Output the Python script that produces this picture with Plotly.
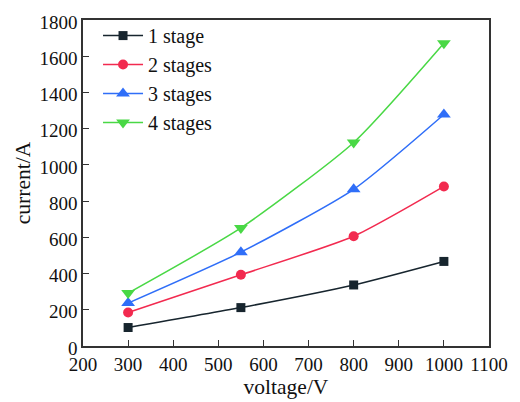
import plotly.graph_objects as go

# Measured current versus applied voltage for 1-4 stage configurations
voltage = [300, 550, 800, 1000]
current_1_stage = [102, 212, 337, 467]
current_2_stages = [185, 393, 606, 881]
current_3_stages = [237, 518, 865, 1278]
current_4_stages = [292, 652, 1124, 1672]

series = [
    ("1 stage", current_1_stage, "#17252e", "square", 9),
    ("2 stages", current_2_stages, "#f22a4f", "circle", 10),
    ("3 stages", current_3_stages, "#2f6ef8", "triangle-up", 12),
    ("4 stages", current_4_stages, "#49d845", "triangle-down", 12),
]

fig = go.Figure()
for name, values, color, symbol, size in series:
    fig.add_trace(go.Scatter(
        x=voltage, y=values, name=name, mode="lines+markers",
        line=dict(color=color, width=1.5, shape="spline", smoothing=0.6),
        marker=dict(symbol=symbol, size=size, color=color),
    ))

font_family = "Liberation Serif, Times New Roman, serif"
axis_common = dict(
    showgrid=False, zeroline=False, showline=True, mirror=True,
    linecolor="#333333", linewidth=1.5, ticks="inside", ticklen=6,
    tickwidth=1.2, tickcolor="#333333",
    tickfont=dict(family=font_family, size=19, color="#111111"),
)

fig.update_layout(
    width=520, height=402,
    margin=dict(l=83, r=21, t=14, b=56),
    paper_bgcolor="white", plot_bgcolor="white",
    font=dict(family=font_family, size=19, color="#111111"),
    xaxis=dict(range=[200, 1100], tickvals=list(range(200, 1101, 100)),
               title=dict(text="voltage/V", standoff=0,
                          font=dict(family=font_family, size=21.5)),
               **axis_common),
    yaxis=dict(range=[0, 1800], tickvals=list(range(0, 1801, 200)),
               ticklabelshift=2,
               title=dict(text="current/A", standoff=3,
                          font=dict(family=font_family, size=21.5)),
               **axis_common),
    legend=dict(x=0.037, y=1.012, xanchor="left", yanchor="top",
                bgcolor="rgba(0,0,0,0)", tracegroupgap=0,
                font=dict(family=font_family, size=20, color="#111111"),
                itemwidth=40),
    showlegend=True,
)

fig.write_html("out.html")
